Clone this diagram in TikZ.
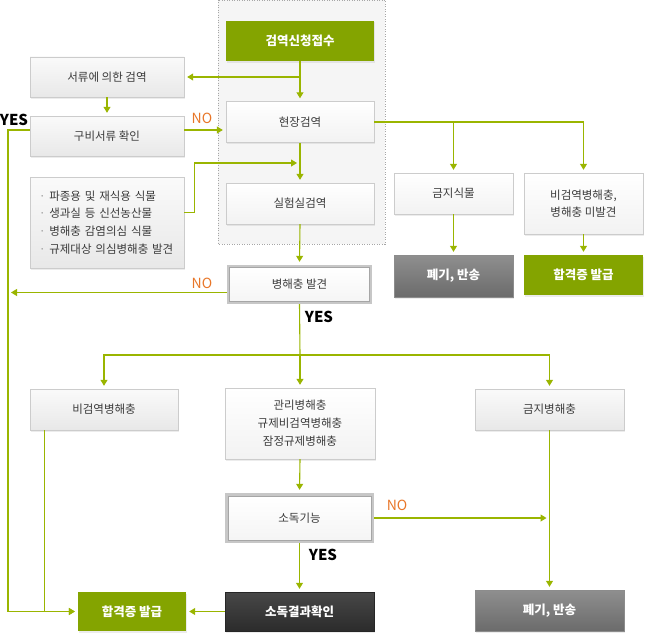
\documentclass[tikz,border=0pt]{standalone}
\usepackage{fontspec}
\setmainfont{Noto Sans CJK KR}
\usetikzlibrary{positioning}
\usetikzlibrary{arrows.meta}
\usetikzlibrary{shadows}
\definecolor{mgreen}{RGB}{132,164,0}
\definecolor{mline}{RGB}{154,181,0}
\definecolor{mtext}{RGB}{60,60,60}
\definecolor{mno}{RGB}{232,118,40}
\tikzset{box/.style = {draw=black!20, minimum width=148pt, minimum height=40pt, inner sep=2pt, text=mtext, align=center, font=\fontsize{11.5}{18}\selectfont, drop shadow={shadow xshift=1pt, shadow yshift=-1.5pt, opacity=0.15}}}
\tikzset{gbox/.style = {box, top color=black!2, bottom color=black!9}}
\tikzset{wbox/.style = {box, top color=white, bottom color=black!5}}
\tikzset{greenbox/.style = {box, fill=mgreen, draw=none, text=white, font=\fontsize{12.5}{18}\selectfont\bfseries}}
\tikzset{darkbox/.style = {box, top color=black!72, bottom color=black!83, draw=black!85, text=white, font=\fontsize{12.5}{18}\selectfont\bfseries}}
\tikzset{greybox/.style = {box, top color=black!44, bottom color=black!58, draw=black!45, text=white, font=\fontsize{12.5}{18}\selectfont\bfseries}}
\tikzset{dbox/.style = {fill=black!22, inner sep=0}}
\tikzset{dinner/.style = {draw=black!35, top color=white, bottom color=black!4, inner sep=0, text=mtext, font=\fontsize{11.5}{18}\selectfont}}
\tikzset{ln/.style = {draw=mline, line width=1.1pt}}
\tikzset{arr/.style = {ln, -{Triangle[width=7pt,length=6pt]}, shorten >=3pt}}
\tikzset{yes/.style = {font=\fontsize{15}{15}\selectfont\bfseries, inner sep=0}}
\tikzset{no/.style = {font=\fontsize{14}{14}\selectfont, text=mno, inner sep=0}}

\begin{document}
\begin{tikzpicture}[x=1pt, y=-1pt]
      \useasboundingbox (0, 0) rectangle (647, 634);
      \draw [black!35, dash pattern=on 1pt off 1.5pt, fill=black!4] (218, 0) rectangle (385, 244);
      \node [greenbox] (req) at (300, 41) {검역신청접수};
      \node [gbox, minimum width=154pt] (doc) at (107, 77) {서류에 의한 검역};
      \node [wbox, minimum height=41pt] (site) at (300, 122) {현장검역};
      \node [gbox, minimum width=154pt] (check) at (107, 136) {구비서류 확인};
      \node [gbox, minimum height=91pt, text width=136pt, inner xsep=9pt, align=left,
        font=\fontsize{11.5}{17.7}\selectfont] (list) at (107, 222.5)
        {{\color{black!40}·} 파종용 및 재식용 식물\\{\color{black!40}·} 생과실 등 신선농산물\\{\color{black!40}·} 병해충 감염의심 식물\\{\color{black!40}·} 규제대상 의심병해충 발견};
      \node [wbox, minimum height=41pt] (lab) at (300, 203.5) {실험실검역};
      \node [dbox, minimum width=145pt, minimum height=39pt] (find) at (299.5, 284.5) {};
      \node [dinner, minimum width=140pt, minimum height=34pt] (findt) at (find.center) {병해충 발견};
      \node [wbox, minimum width=119pt, minimum height=41pt] (banp) at (453.5, 193.5) {금지식물};
      \node [wbox, minimum width=119pt, minimum height=61pt, font=\fontsize{11.5}{17}\selectfont] (nonq) at (583.5, 203.5) {비검역병해충,\\병해충 미발견};
      \node [greybox, minimum width=119pt, minimum height=42pt] (disc1) at (453.5, 276) {폐기, 반송};
      \node [greenbox, minimum width=119pt] (pass1) at (583.5, 275) {합격증 발급};
      \node [gbox, minimum height=41pt] (nonpest) at (104, 409.5) {비검역병해충};
      \node [wbox, minimum width=150pt, minimum height=71pt] (mgmt) at (300, 423.5) {관리병해충\\규제비검역병해충\\잠정규제병해충};
      \node [gbox, minimum width=149pt, minimum height=41pt] (banpest) at (549.5, 409.5) {금지병해충};
      \node [dbox, minimum width=149pt, minimum height=50pt] (disinf) at (299.5, 518) {};
      \node [dinner, minimum width=143pt, minimum height=44pt] (disinft) at (disinf.center) {소독기능};
      \node [greenbox, minimum width=108pt, minimum height=39pt] (pass2) at (132, 611.5) {합격증 발급};
      \node [darkbox, minimum width=149pt, minimum height=39pt] (result) at (299.5, 611.5) {소독결과확인};
      \node [greybox, minimum width=149pt, minimum height=41pt] (disc2) at (549.5, 610.5) {폐기, 반송};
      \node [yes] (yes1) at (14, 120) {YES};
      \node [no] (no1) at (202, 118) {NO};
      \node [no] (no2) at (202, 283) {NO};
      \node [yes] (yes2) at (319, 317) {YES};
      \node [no] (no3) at (397, 505) {NO};
      \node [yes] (yes3) at (323, 555) {YES};
      \coordinate (j1) at (req.south |- doc.east);
      \coordinate (j2) at (300, 163);
      \coordinate (j3) at (300, 355);
      \coordinate (yl) at (8, 130);
      \draw [arr] (req.south) -- (site.north);
      \draw [arr] (j1) -- (doc.east);
      \draw [arr] (doc.south) -- (check.north);
      \draw [arr] ([yshift=6pt]check.east) -- ([yshift=-8pt]site.west);
      \draw [arr] ([yshift=6pt]check.west) -- (yl) |- (pass2.west);
      \draw [arr] ([yshift=10pt]list.east) -- ++(10, 0) |- (j2);
      \draw [arr] (site.south) -- (lab.north);
      \draw [arr] (site.east) -| (nonq.north);
      \draw [arr] (site.east -| banp.north) -- (banp.north);
      \draw [arr] (banp.south) -- (disc1.north);
      \draw [arr] (nonq.south) -- (pass1.north);
      \draw [arr] (lab.south) -- (find.north);
      \draw [arr] ([yshift=-8pt]find.west) -- ([yshift=-8pt]find.west -| yl);
      \draw [ln] (find.south) -- (j3);
      \draw [arr] (j3) -- (mgmt.north);
      \draw [arr] (j3) -| (nonpest.north);
      \draw [arr] (j3) -| (banpest.north);
      \draw [arr] (mgmt.south) -- (disinf.north);
      \draw [arr] (disinf.east) -- (disinf.east -| banpest.south);
      \draw [arr] (banpest.south) -- (disc2.north);
      \draw [arr] (disinf.south) -- (result.north);
      \draw [arr] (result.west) -- (pass2.east);
      \draw [arr] ([xshift=15pt]nonpest.south west) |- (pass2.west);
    \end{tikzpicture}
\end{document}
